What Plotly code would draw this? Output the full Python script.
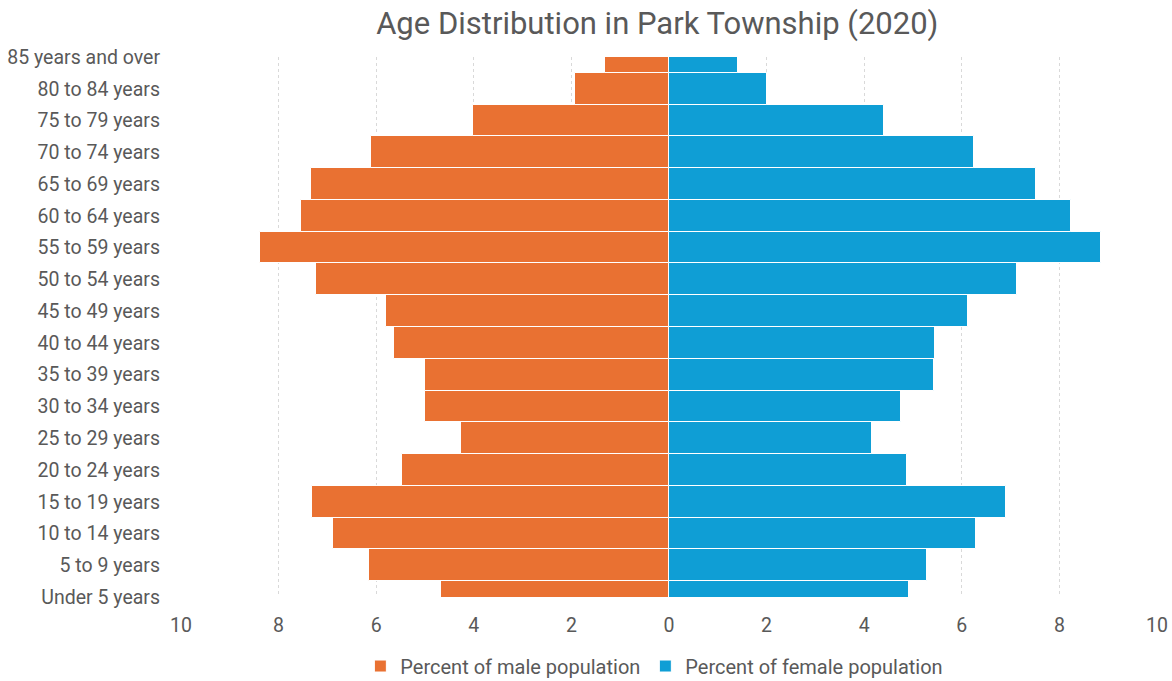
import plotly.graph_objects as go

categories = ["Under 5 years", "5 to 9 years", "10 to 14 years", "15 to 19 years",
              "20 to 24 years", "25 to 29 years", "30 to 34 years", "35 to 39 years",
              "40 to 44 years", "45 to 49 years", "50 to 54 years", "55 to 59 years",
              "60 to 64 years", "65 to 69 years", "70 to 74 years", "75 to 79 years",
              "80 to 84 years", "85 years and over"]

male_pct = [4.68, 6.15, 6.89, 7.32, 5.47, 4.26, 4.99, 4.99, 5.64, 5.79,
            7.23, 8.38, 7.55, 7.34, 6.11, 4.01, 1.93, 1.31]
female_pct = [4.91, 5.29, 6.30, 6.91, 4.88, 4.16, 4.75, 5.44, 5.46, 6.13,
              7.13, 8.85, 8.23, 7.53, 6.24, 4.40, 2.01, 1.41]

tick_vals = [-10, -8, -6, -4, -2, 0, 2, 4, 6, 8, 10]
tick_text = ["10", "8", "6", "4", "2", "0", "2", "4", "6", "8", "10"]

FONT = "Roboto, Liberation Sans, sans-serif"
GREY = "#595959"

fig = go.Figure()
fig.add_trace(go.Bar(
    y=categories, x=[-v for v in male_pct], orientation="h",
    name="Percent of male population",
    marker=dict(color="#E97132", line=dict(color="white", width=1)),
    customdata=male_pct, hovertemplate="%{y}: %{customdata}<extra></extra>",
))
fig.add_trace(go.Bar(
    y=categories, x=female_pct, orientation="h",
    name="Percent of female population",
    marker=dict(color="#0F9ED5", line=dict(color="white", width=1)),
))

fig.update_layout(
    width=1172, height=681,
    margin=dict(l=181, r=15, t=57, b=84),
    paper_bgcolor="white", plot_bgcolor="white",
    barmode="relative", bargap=0,
    font=dict(family=FONT, color=GREY, size=19.5),
    title=dict(text="Age Distribution in Park Township (2020)",
               x=0.488, xref="paper", xanchor="center",
               y=0.966, yref="container", yanchor="middle",
               font=dict(size=31, color=GREY, family=FONT)),
    legend=dict(orientation="h", x=0.485, xref="paper", xanchor="center",
                y=0.022, yref="container", yanchor="middle",
                font=dict(size=20, color=GREY),
                itemwidth=30, traceorder="normal"),
    showlegend=True,
)
fig.update_xaxes(
    range=[-10, 10], tickvals=tick_vals, ticktext=tick_text,
    showgrid=True, gridcolor="#D9D9D9", griddash="dot", gridwidth=1,
    zeroline=False, showline=False, ticks="",
    ticklabelstandoff=14, automargin=False,
    tickfont=dict(size=19.5, color=GREY),
)
fig.update_yaxes(
    type="category", categoryorder="array", categoryarray=categories,
    range=[0, len(categories) - 1],
    showgrid=False, zeroline=False, showline=False, ticks="",
    ticklabelstandoff=20, automargin=False,
    tickfont=dict(size=19.5, color=GREY),
)

fig.write_html("out.html",
               config={"displayModeBar": False},
               post_script="document.body.style.margin='0';document.body.style.overflow='hidden';")
